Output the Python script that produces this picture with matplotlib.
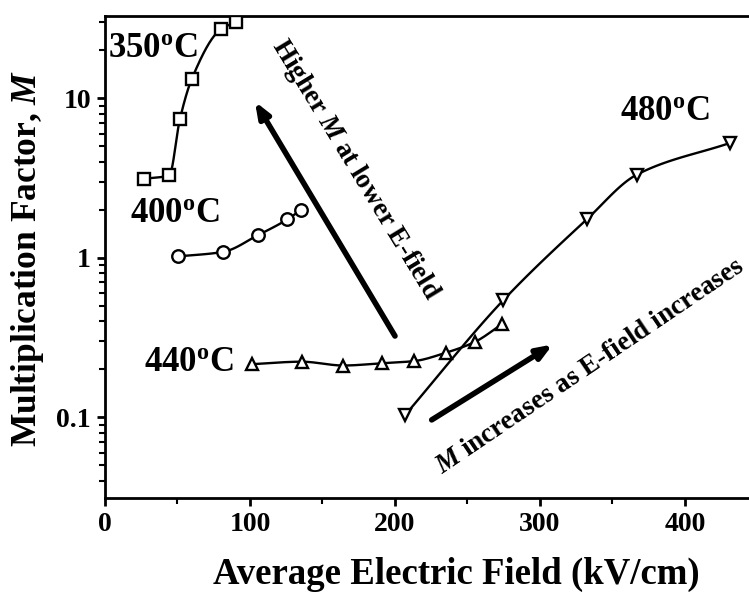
import numpy as np
import matplotlib
matplotlib.use("Agg")
import matplotlib.pyplot as plt
from matplotlib.ticker import FixedLocator, LogLocator, NullFormatter, FuncFormatter

plt.rcParams['font.family'] = 'Liberation Serif'
plt.rcParams['font.weight'] = 'bold'
plt.rcParams['mathtext.fontset'] = 'custom'
plt.rcParams['mathtext.rm'] = 'Liberation Serif:bold'
plt.rcParams['mathtext.it'] = 'Liberation Serif:italic:bold'
plt.rcParams['mathtext.bf'] = 'Liberation Serif:bold'

# multiplication factor vs average field, one series per temperature
field_350 = [26.9, 44.3, 51.7, 59.8, 79.8, 90.1]
m_350 = [3.13, 3.29, 7.44, 13.2, 27.1, 30.1]

field_400 = [50.6, 81.6, 105.7, 125.7, 135.2]
m_400 = [1.02, 1.09, 1.39, 1.74, 2.0]

field_440 = [101.1, 135.6, 164.4, 190.8, 213.3, 235.2, 255.2, 273.5]
m_440 = [0.215, 0.223, 0.211, 0.218, 0.225, 0.254, 0.297, 0.382]

field_480 = [206.9, 274.7, 332.2, 366.7, 431.0]
m_480 = [0.103, 0.542, 1.74, 3.32, 5.25]


def pchip(x, y, n=30):
    # monotone cubic through the points, y handled in log space
    x = np.asarray(x, float)
    ly = np.log10(y)
    h = np.diff(x)
    d = np.diff(ly) / h
    m = np.zeros_like(x)
    for k in range(1, len(x) - 1):
        if d[k - 1] * d[k] > 0:
            w1 = 2 * h[k] + h[k - 1]
            w2 = h[k] + 2 * h[k - 1]
            m[k] = (w1 + w2) / (w1 / d[k - 1] + w2 / d[k])
    m[0] = d[0]
    m[-1] = d[-1]
    xs, ys = [], []
    t = np.linspace(0, 1, n, endpoint=False)
    for k in range(len(x) - 1):
        h00 = 2 * t ** 3 - 3 * t ** 2 + 1
        h10 = t ** 3 - 2 * t ** 2 + t
        h01 = -2 * t ** 3 + 3 * t ** 2
        h11 = t ** 3 - t ** 2
        xs.extend(x[k] + t * h[k])
        ys.extend(h00 * ly[k] + h10 * h[k] * m[k]
                  + h01 * ly[k + 1] + h11 * h[k] * m[k + 1])
    xs.append(x[-1])
    ys.append(ly[-1])
    return np.array(xs), 10 ** np.array(ys)


fig = plt.figure(figsize=(7.49, 5.96), dpi=100)
ax = fig.add_axes([105 / 749, 97.7 / 596, 652.5 / 749, 482.6 / 596])

series = [
    (field_350, m_350, 's'),
    (field_400, m_400, 'o'),
    (field_440, m_440, '^'),
    (field_480, m_480, 'v'),
]
for x, y, mk in series:
    sx, sy = pchip(x, y)
    ax.plot(sx, sy, color='black', lw=1.7, zorder=2)
    ax.plot(x, y, linestyle='none', marker=mk, ms=9, mfc='white',
            mec='black', mew=1.7, zorder=3)

ax.set_yscale('log')
ax.set_xlim(0, 450)
ax.set_ylim(0.031, 33)

ax.xaxis.set_major_locator(FixedLocator([0, 100, 200, 300, 400]))
ax.xaxis.set_minor_locator(FixedLocator([50, 150, 250, 350]))
ax.yaxis.set_major_locator(FixedLocator([0.1, 1, 10]))
ax.yaxis.set_minor_locator(LogLocator(base=10, subs=np.arange(2, 10)))
ax.yaxis.set_minor_formatter(NullFormatter())
ax.yaxis.set_major_formatter(FuncFormatter(lambda v, p: f'{v:g}'))

ax.tick_params(which='major', direction='out', length=6, width=2,
               labelsize=20, pad=4)
ax.tick_params(which='minor', direction='out', length=4, width=1.5)
for s in ax.spines.values():
    s.set_linewidth(2)
ax.spines['right'].set_visible(False)

ax.set_xlabel('Average Electric Field (kV/cm)', fontsize=26.5,
              fontweight='bold')
ax.xaxis.set_label_coords(0.538, -0.122)
ax.set_ylabel('Multiplication Factor, $\\mathit{M}$', fontsize=25.5,
              fontweight='bold')
ax.yaxis.set_label_coords(-0.09, 0.497)

# temperature labels
lab = dict(fontsize=25, fontweight='bold', va='baseline', ha='left')
sup = '$^{\\mathregular{o}}$'
ax.text(2.1, 18.2, '350' + sup + 'C', **lab)
ax.text(17.2, 1.67, '400' + sup + 'C', **lab)
ax.text(26.9, 0.196, '440' + sup + 'C', **lab)
ax.text(355, 7.34, '480' + sup + 'C', **lab)

# trend arrows
arrow = dict(arrowstyle='-|>,head_length=0.9,head_width=0.35', lw=4,
             color='black', shrinkA=0, shrinkB=0)
ax.annotate('', xy=(103.4, 9.55), xytext=(200, 0.323), arrowprops=arrow)
ax.annotate('', xy=(308.8, 0.286), xytext=(225.3, 0.0962), arrowprops=arrow)

ax.text(172.4, 3.57, 'Higher $\\mathit{M}$ at lower E-field', fontsize=19.5,
        fontweight='bold', rotation=-58.7, rotation_mode='anchor',
        ha='center', va='center')
ax.text(334.5, 0.2066, '$\\mathit{M}$ increases as E-field increases',
        fontsize=19.5, fontweight='bold', rotation=34, rotation_mode='anchor',
        ha='center', va='center')

fig.savefig('out.png', dpi=100)
